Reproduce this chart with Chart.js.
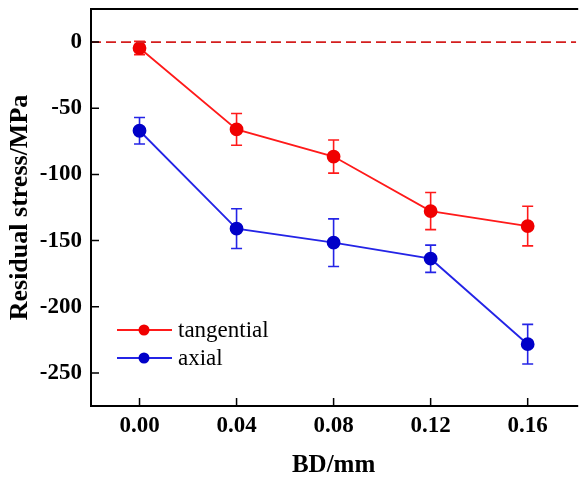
<!DOCTYPE html>
<html>
<head>
<meta charset="utf-8">
<script src="https://cdn.jsdelivr.net/npm/chart.js@4.4.1/dist/chart.umd.min.js"></script>
<style>
  html, body { margin: 0; padding: 0; background: #fff; overflow: hidden; }
  #wrap { width: 584px; height: 481px; }
</style>
</head>
<body>
<div id="wrap"><canvas id="chart" width="584" height="481"></canvas></div>
<script>
// data
var bd = [0.00, 0.04, 0.08, 0.12, 0.16];
var tangential = [-4.5, -66, -86.5, -127.7, -139];
var tangentialErr = [5, 12, 12.5, 14, 15];
var axial = [-67, -141, -151.6, -163.7, -228.3];
var axialErr = [10, 15, 18, 10.3, 15];
var xTicks = [0.00, 0.04, 0.08, 0.12, 0.16];
var yTicks = [-250, -200, -150, -100, -50, 0];

var redLine = "#ff1a1a", redDot = "#f00000";
var blueLine = "#2424e6", blueDot = "#0000c8";

function pts(xs, ys) {
  return xs.map(function (x, i) { return { x: x, y: ys[i] }; });
}

// error bars, drawn with the library's scales
var errorBars = {
  id: "errorBars",
  beforeDatasetsDraw: function (chart) {
    var ctx = chart.ctx;
    var xs = chart.scales.x, ys = chart.scales.y;
    chart.data.datasets.forEach(function (ds) {
      if (!ds.errors) return;
      ctx.save();
      ctx.strokeStyle = ds.borderColor;
      ctx.lineWidth = 1.6;
      ds.data.forEach(function (p, i) {
        var px = xs.getPixelForValue(p.x);
        var top = ys.getPixelForValue(p.y + ds.errors[i]);
        var bot = ys.getPixelForValue(p.y - ds.errors[i]);
        ctx.beginPath();
        ctx.moveTo(px, top); ctx.lineTo(px, bot);
        ctx.moveTo(px - 5.5, top); ctx.lineTo(px + 5.5, top);
        ctx.moveTo(px - 5.5, bot); ctx.lineTo(px + 5.5, bot);
        ctx.stroke();
      });
      ctx.restore();
    });
  }
};

// frame, inward ticks and the legend
var frame = {
  id: "frame",
  afterDraw: function (chart) {
    var ctx = chart.ctx, a = chart.chartArea;
    var xs = chart.scales.x, ys = chart.scales.y;
    ctx.save();
    ctx.strokeStyle = "#000";
    ctx.lineWidth = 2;
    ctx.beginPath();
    ctx.moveTo(a.right + 2, a.top); ctx.lineTo(a.left, a.top);
    ctx.lineTo(a.left, a.bottom); ctx.lineTo(a.right + 2, a.bottom);
    ctx.stroke();
    ctx.lineWidth = 1.5;
    ctx.beginPath();
    xTicks.forEach(function (v) {
      var px = xs.getPixelForValue(v);
      ctx.moveTo(px, a.bottom); ctx.lineTo(px, a.bottom - 8);
    });
    yTicks.forEach(function (v) {
      var py = ys.getPixelForValue(v);
      ctx.moveTo(a.left, py); ctx.lineTo(a.left + 8, py);
    });
    ctx.stroke();

    // legend
    var items = [
      { label: "tangential", line: redLine, dot: redDot, y: 330 },
      { label: "axial", line: blueLine, dot: blueDot, y: 358 }
    ];
    ctx.font = "23px 'Liberation Serif'";
    ctx.textBaseline = "middle";
    items.forEach(function (it) {
      ctx.strokeStyle = it.line;
      ctx.lineWidth = 1.8;
      ctx.beginPath();
      ctx.moveTo(117, it.y); ctx.lineTo(172, it.y);
      ctx.stroke();
      ctx.fillStyle = it.dot;
      ctx.beginPath();
      ctx.arc(144, it.y, 5.5, 0, Math.PI * 2);
      ctx.fill();
      ctx.fillStyle = "#000";
      ctx.fillText(it.label, 178, it.y + 1);
    });
    ctx.restore();
  }
};

function noPadY(scale) {
  scale.width = 91;
  scale.paddingTop = 0;
  scale.paddingBottom = 0;
}
function noPadX(scale) {
  scale.height = 75;
  scale.paddingLeft = 0;
  scale.paddingRight = 0;
}

new Chart(document.getElementById("chart"), {
  type: "line",
  data: {
    datasets: [
      {
        label: "zero",
        data: [{ x: -0.02, y: 0 }, { x: 0.18, y: 0 }],
        borderColor: "#d41e1e",
        borderWidth: 1.6,
        borderDash: [10, 5],
        pointRadius: 0
      },
      {
        label: "tangential",
        data: pts(bd, tangential),
        errors: tangentialErr,
        borderColor: redLine,
        borderWidth: 1.8,
        backgroundColor: redDot,
        pointBackgroundColor: redDot,
        pointBorderColor: redDot,
        pointRadius: 6
      },
      {
        label: "axial",
        data: pts(bd, axial),
        errors: axialErr,
        borderColor: blueLine,
        borderWidth: 1.8,
        backgroundColor: blueDot,
        pointBackgroundColor: blueDot,
        pointBorderColor: blueDot,
        pointRadius: 6
      }
    ]
  },
  options: {
    responsive: false,
    animation: false,
    events: [],
    layout: { padding: { top: 9, right: 2, left: 0, bottom: 0 } },
    plugins: { legend: { display: false }, tooltip: { enabled: false } },
    scales: {
      x: {
        type: "linear",
        min: -0.02,
        max: 0.18,
        afterBuildTicks: function (scale) {
          scale.ticks = xTicks.map(function (v) { return { value: v }; });
        },
        afterFit: noPadX,
        grid: { display: false, drawTicks: false },
        border: { display: false },
        ticks: {
          padding: 6,
          color: "#000",
          font: { family: "Liberation Serif", size: 23, weight: "bold" },
          callback: function (v) { return v.toFixed(2); }
        },
        title: {
          display: true,
          text: "BD/mm",
          color: "#000",
          padding: { top: 0, bottom: 0 },
          font: { family: "Liberation Serif", size: 25, weight: "bold" }
        }
      },
      y: {
        min: -275,
        max: 25,
        afterBuildTicks: function (scale) {
          scale.ticks = yTicks.map(function (v) { return { value: v }; });
        },
        afterFit: noPadY,
        grid: { display: false, drawTicks: false },
        border: { display: false },
        ticks: {
          padding: 9,
          color: "#000",
          font: { family: "Liberation Serif", size: 23, weight: "bold" },
          callback: function (v) { return String(v); }
        },
        title: {
          display: true,
          text: "Residual stress/MPa",
          color: "#000",
          padding: { top: 5, bottom: 0 },
          font: { family: "Liberation Serif", size: 26, weight: "bold" }
        }
      }
    }
  },
  plugins: [errorBars, frame]
});
</script>
</body>
</html>
